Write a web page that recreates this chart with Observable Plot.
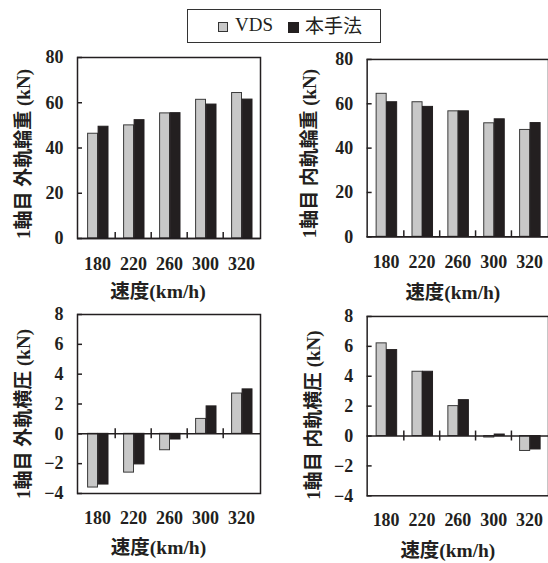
<!DOCTYPE html>
<html><head><meta charset="utf-8">
<script src="https://cdn.jsdelivr.net/npm/d3@7"></script>
<script src="https://cdn.jsdelivr.net/npm/@observablehq/plot@0.6"></script>
<style>
html,body{margin:0;padding:0;background:#fff;overflow:hidden;}
#wrap{position:relative;width:548px;height:563px;overflow:hidden;background:#fff;}
.panel{position:absolute;}
.panel svg{overflow:visible;}
#legend{position:absolute;left:187px;top:9px;width:192px;height:32px;border:1px solid #333;box-sizing:content-box;}
.sw{position:absolute;width:10px;height:10px;box-sizing:border-box;}
.lt{position:absolute;top:3px;font-size:19px;line-height:24px;color:#231f20;}
</style></head><body>
<div id="wrap">
  <div id="legend">
    <div class="sw" style="left:30px;top:12px;background:#c8c8c8;border:1px solid #333;"></div>
    <div class="lt" id="lg1" style="left:47px;font-family:'Liberation Serif',serif;"></div>
    <div class="sw" style="left:100px;top:12px;background:#231f20;width:11px;height:11px;"></div>
    <div class="lt" id="lg2" style="left:117px;font-family:'Noto Sans CJK JP',sans-serif;"></div>
  </div>
</div>
<script>
const speeds = ["180", "220", "260", "300", "320"];
const seriesNames = ["VDS", "本手法"];
const xTitle = "速度(km/h)";

const outerLoadVDS = [46.3, 50.0, 55.3, 61.3, 64.3];
const outerLoadOurs = [49.4, 52.3, 55.4, 59.2, 61.4];
const innerLoadVDS = [64.5, 60.7, 56.6, 51.2, 48.2];
const innerLoadOurs = [60.7, 58.6, 56.6, 53.0, 51.3];
const outerLatVDS = [-3.6, -2.6, -1.1, 1.0, 2.7];
const outerLatOurs = [-3.4, -2.05, -0.38, 1.84, 2.98];
const innerLatVDS = [6.2, 4.3, 2.0, -0.1, -1.0];
const innerLatOurs = [5.75, 4.3, 2.4, 0.1, -0.9];

const loadTicks = [0, 20, 40, 60, 80];
const latTicks = [-4, -2, 0, 2, 4, 6, 8];

document.getElementById("lg1").textContent = seriesNames[0];
document.getElementById("lg2").textContent = seriesNames[1];

const FONT = "'Liberation Serif','Noto Sans CJK JP',serif";
const INK = "#231f20";

function panel(o) {
  const data = speeds.map((s, i) => ({speed: s, vds: o.vds[i], ours: o.ours[i]}));
  const bw = (o.width - o.ml - o.mr) / speeds.length;
  const half = bw / 2;
  const barW = 10.5;
  const chart = Plot.plot({
    width: o.width, height: o.height,
    marginLeft: o.ml, marginRight: o.mr, marginTop: o.mt, marginBottom: o.mb,
    style: {fontFamily: FONT, fontSize: "18px", fontWeight: "bold", color: INK, background: "transparent", overflow: "visible"},
    x: {domain: speeds, padding: 0, label: null},
    y: {domain: o.domain, label: null},
    marks: [
      Plot.barY(data, {x: "speed", y: "vds", fill: "#c8c8c8", stroke: "#3a3a3a", strokeWidth: 1,
        insetLeft: half - barW, insetRight: half, dx: 0.8}),
      Plot.barY(data, {x: "speed", y: "ours", fill: INK, stroke: INK, strokeWidth: 1,
        insetLeft: half, insetRight: half - barW, dx: 0.8}),
      Plot.ruleY([0], {stroke: INK, strokeWidth: 1.5}),
      Plot.frame({stroke: INK, strokeWidth: 1.5}),
      Plot.ruleX(speeds.slice(1), {x: d => d, y1: 0, y2: 0, dx: -half,
        insetTop: o.cross ? 5 : 0, insetBottom: o.cross ? 5 : 6, stroke: INK, strokeWidth: 1.5}),
      Plot.axisY({ticks: o.ticks, tickSize: 5, dx: 5, text: null, label: null, stroke: INK, strokeWidth: 1.5}),
      Plot.axisY({ticks: o.ticks, tickSize: 0, tickPadding: 14, label: null, fill: INK,
        fontSize: 18, fontWeight: "bold", fontFamily: FONT}),
      Plot.axisX({tickSize: 0, tickPadding: o.xtp, label: null, fill: INK,
        fontSize: 18, fontWeight: "bold", fontFamily: FONT}),
      Plot.text([o.ytitle], {frameAnchor: "left", textAnchor: "middle", rotate: -90, dx: o.ytdx, dy: o.ytdy,
        fontSize: 19, fontWeight: "bold", fontFamily: FONT, fill: INK}),
      Plot.text([xTitle], {frameAnchor: "bottom", textAnchor: "middle", dx: o.xtdx, dy: o.xtdy,
        fontSize: 19.5, fontWeight: "bold", fontFamily: FONT, fill: INK})
    ]
  });
  const div = document.createElement("div");
  div.className = "panel";
  div.style.left = o.left + "px";
  div.style.top = o.top + "px";
  div.appendChild(chart);
  document.getElementById("wrap").appendChild(div);
}

panel({left: 0, top: 45, width: 274, height: 265, ml: 77, mr: 14, mt: 12, mb: 72,
  domain: [0, 80], ticks: loadTicks, vds: outerLoadVDS, ours: outerLoadOurs, cross: false, xtp: 19,
  ytitle: "1軸目 外軌輪重 (kN)", ytdx: -54, ytdy: 6, xtdx: -11, xtdy: 59});
panel({left: 274, top: 45, width: 275, height: 265, ml: 93, mr: 0, mt: 14, mb: 73,
  domain: [0, 80], ticks: loadTicks, vds: innerLoadVDS, ours: innerLoadOurs, cross: false, xtp: 19,
  ytitle: "1軸目 内軌輪重 (kN)", ytdx: -57, ytdy: 5.5, xtdx: -5, xtdy: 62});
panel({left: 0, top: 305, width: 274, height: 258, ml: 77, mr: 14, mt: 9, mb: 70,
  domain: [-4, 8], ticks: latTicks, vds: outerLatVDS, ours: outerLatOurs, cross: true, xtp: 18,
  ytitle: "1軸目 外軌横圧 (kN)", ytdx: -53.5, ytdy: 10, xtdx: -10.5, xtdy: 60});
panel({left: 274, top: 305, width: 275, height: 258, ml: 93, mr: 0, mt: 11, mb: 67,
  domain: [-4, 8], ticks: latTicks, vds: innerLatVDS, ours: innerLatOurs, cross: true, xtp: 18,
  ytitle: "1軸目 内軌横圧 (kN)", ytdx: -53, ytdy: 9, xtdx: -10, xtdy: 61});
</script>
</body></html>
